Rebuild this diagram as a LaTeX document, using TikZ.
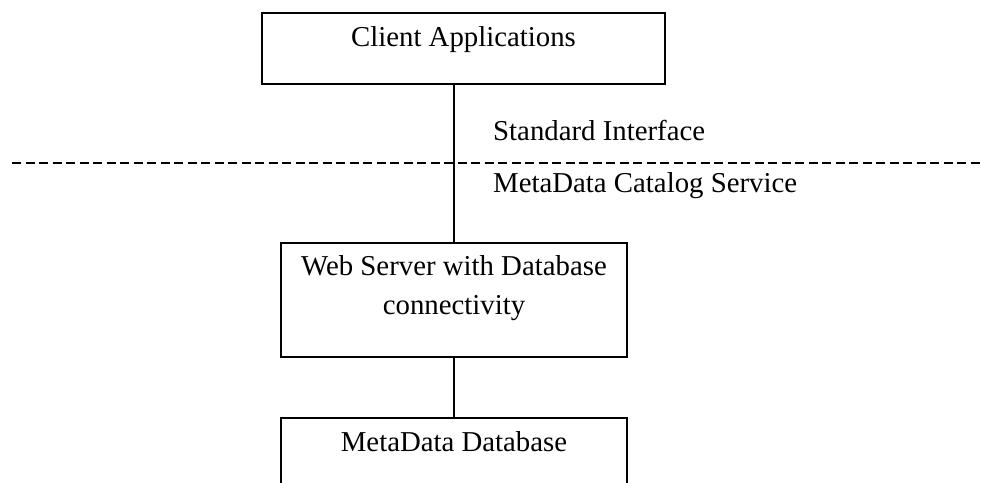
\documentclass[tikz,border=0pt]{standalone}
\usepackage{fontspec}
\setmainfont{Liberation Serif}
\usetikzlibrary{positioning}

\begin{document}
\begin{tikzpicture}[
  x=1pt, y=-1pt,
  every node/.style={font=\fontsize{28.8}{39}\selectfont},
  block/.style={draw, line width=2pt, align=center, anchor=north, inner sep=0pt},
  link/.style={line width=2pt},
  divider/.style={line width=2pt, dash pattern=on 9pt off 4.5pt},
  tag/.style={anchor=base west, inner sep=0pt}
]
\path[use as bounding box, clip] (0,0) rectangle (981,482);
\node[block, minimum width=403pt, text height=33pt, text depth=38pt] (client) at (463.5,12) {Client Applications};
\node[block, minimum width=346pt, text height=71pt, text depth=43pt] (web) at (454,242) {Web Server with Database\\connectivity};
\node[block, minimum width=346pt, text height=33pt, text depth=38pt, below=59pt of web] (db) {MetaData Database};
% layer boundary
\coordinate (cutL) at (12,163);
\coordinate (cutR) at (981,163);
\draw[divider] (cutL) -- (cutR);
\draw[link] (client.south -| web.north) -- (web.north);
\draw[link] (web.south) -- (db.north);
\node[tag] (api) at (493,140) {Standard Interface};
\node[tag] (catalog) at (493,192) {MetaData Catalog Service};
\end{tikzpicture}
\end{document}
